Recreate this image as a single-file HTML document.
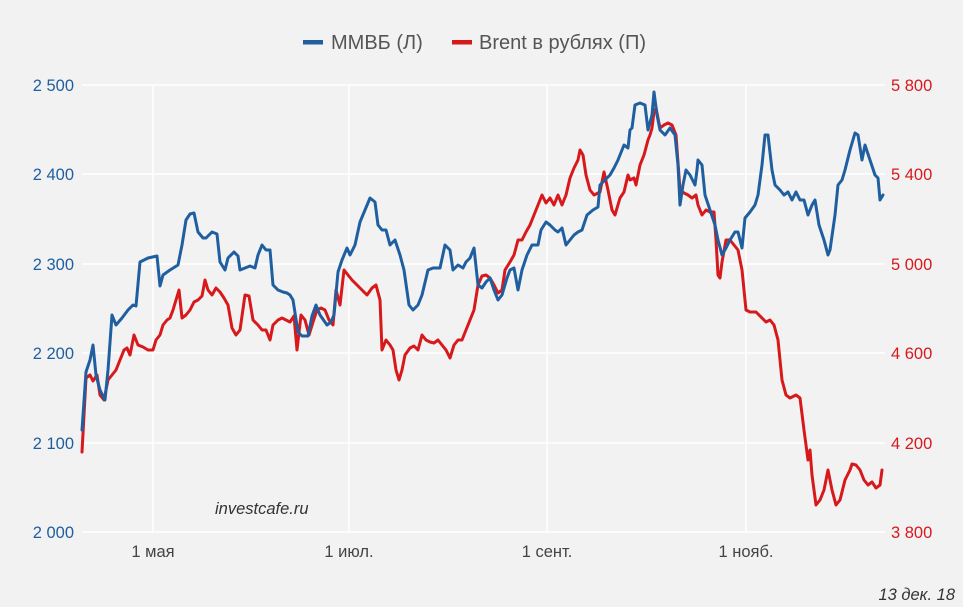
<!DOCTYPE html>
<html><head><meta charset="utf-8"><style>
body{margin:0;background:#f2f2f2;}
svg{display:block;font-family:"Liberation Sans",sans-serif;}
</style></head><body>
<svg width="963" height="607" viewBox="0 0 963 607">
<rect width="963" height="607" fill="#f2f2f2"/>
<g stroke="#ffffff" stroke-width="1.5">
<line x1="82" y1="85" x2="885" y2="85"/><line x1="82" y1="174" x2="885" y2="174"/>
<line x1="82" y1="264" x2="885" y2="264"/><line x1="82" y1="353" x2="885" y2="353"/>
<line x1="82" y1="443" x2="885" y2="443"/><line x1="82" y1="532" x2="885" y2="532"/>
<line x1="153" y1="85" x2="153" y2="532"/><line x1="349" y1="85" x2="349" y2="532"/>
<line x1="547" y1="85" x2="547" y2="532"/><line x1="746" y1="85" x2="746" y2="532"/>
</g>
<g font-size="16.5" fill="#1f5fa0" text-anchor="end">
<text x="74" y="91">2 500</text><text x="74" y="180">2 400</text><text x="74" y="270">2 300</text>
<text x="74" y="359">2 200</text><text x="74" y="449">2 100</text><text x="74" y="538">2 000</text>
</g>
<g font-size="16.5" fill="#d7191c">
<text x="891" y="91">5 800</text><text x="891" y="180">5 400</text><text x="891" y="270">5 000</text>
<text x="891" y="359">4 600</text><text x="891" y="449">4 200</text><text x="891" y="538">3 800</text>
</g>
<g font-size="16.5" fill="#444" text-anchor="middle">
<text x="153" y="557">1 мая</text><text x="349" y="557">1 июл.</text>
<text x="547" y="557">1 сент.</text><text x="746" y="557">1 нояб.</text>
</g>
<text x="215" y="514" font-size="16.5" font-style="italic" fill="#333">investcafe.ru</text>
<text x="955" y="600" font-size="16.5" font-style="italic" fill="#333" text-anchor="end">13 дек. 18</text>
<rect x="303" y="40" width="20" height="4.5" fill="#1f5fa0"/>
<text x="331" y="49" font-size="20" fill="#555">ММВБ (Л)</text>
<rect x="452" y="40" width="20" height="4.5" fill="#d7191c"/>
<text x="479" y="49" font-size="20" fill="#555">Brent в рублях (П)</text>
<g fill="none" stroke-width="3" stroke-linejoin="round" stroke-linecap="round">
<polyline stroke="#d7191c" points="82,452 86,378 90,375 93,381 97,375 100,395 104,400 108,380 112,375 116,370 120,360 124,350 127,348 130,355 134,335 138,345 143,347 148,350 153,350 156,340 160,335 163,325 167,320 170,318 173,310 176,300 179,290 182,318 186,315 190,310 194,302 198,300 202,296 205,280 208,290 212,295 216,288 220,292 224,298 228,305 232,328 236,335 240,330 245,295 249,296 253,320 258,325 262,330 266,330 270,340 273,325 278,320 282,318 286,320 290,322 294,316 297,350 301,315 305,320 309,335 313,322 317,310 321,308 325,310 329,320 333,325 336,290 340,305 344,270 348,275 352,280 357,285 362,290 367,295 372,288 376,285 380,300 382,350 386,340 390,345 393,350 396,370 399,380 402,370 405,355 410,348 414,346 418,350 422,335 426,340 430,342 434,343 438,340 442,345 446,350 450,358 454,345 458,340 462,340 466,330 470,320 474,310 478,285 482,276 486,275 490,278 494,285 498,293 502,290 505,270 510,262 514,255 518,240 522,240 526,232 530,225 534,215 538,205 542,195 546,203 550,198 554,205 558,195 562,205 566,195 570,178 574,168 578,160 580,150 583,155 586,175 590,190 594,195 600,192 604,172 608,190 612,210 615,215 620,198 624,192 628,175 630,180 634,178 636,185 640,165 644,155 648,140 650,135 652,128 654,112 656,108 660,128 664,125 668,123 672,125 676,135 680,190 684,193 688,195 692,198 696,195 698,205 702,215 706,210 710,212 714,212 716,240 718,275 720,278 722,262 726,240 730,240 734,245 738,250 742,270 746,310 750,312 756,312 762,318 766,322 770,320 774,325 778,340 782,380 786,395 790,398 796,395 800,398 804,430 808,460 810,450 812,475 816,505 820,500 824,490 828,470 832,490 836,505 840,500 845,480 850,470 852,464 856,465 860,470 864,480 868,485 872,482 876,488 880,485 882,470"/>
<polyline stroke="#1f5fa0" points="82,430 86,372 90,360 93,345 96,375 100,390 105,400 108,370 112,315 116,325 122,318 128,310 133,305 136,306 140,262 148,258 157,256 160,286 163,275 170,270 178,265 182,245 186,220 190,214 194,213 198,232 203,238 206,238 212,232 217,234 220,262 225,270 228,258 234,252 238,256 240,270 245,268 250,266 255,268 258,255 262,245 266,250 270,250 273,285 278,290 283,292 287,293 290,295 293,300 298,332 302,336 308,336 312,316 316,305 320,315 327,325 331,322 334,315 338,272 342,260 347,248 350,255 355,245 360,222 365,210 370,198 375,202 378,225 382,230 386,230 390,245 395,240 400,255 404,270 409,305 413,310 418,305 422,295 428,270 433,268 440,268 445,245 450,250 453,270 458,265 463,268 466,262 470,258 474,248 478,285 482,288 486,282 490,278 494,290 498,300 502,295 507,278 510,270 514,268 518,290 522,270 527,255 532,245 538,245 541,230 546,222 550,225 555,230 558,232 562,228 566,245 570,240 574,235 578,232 582,230 587,215 593,210 598,207 600,185 605,180 610,175 614,168 618,160 620,155 624,145 628,148 630,130 632,128 635,105 640,103 645,105 648,130 652,115 654,92 657,115 660,130 665,135 670,128 675,135 678,165 680,205 683,185 686,170 690,175 695,185 697,170 698,160 702,165 705,195 710,210 715,225 718,240 722,255 726,248 730,240 735,232 738,232 742,248 745,218 750,212 755,205 758,195 762,165 765,135 768,135 772,170 775,185 780,190 784,195 788,192 792,200 796,192 800,200 804,200 808,215 812,205 815,200 819,225 824,240 828,255 830,250 835,215 838,185 842,180 845,170 850,150 855,133 858,135 862,160 865,145 870,160 875,175 878,178 880,200 883,195"/>
</g>
</svg>
</body></html>
